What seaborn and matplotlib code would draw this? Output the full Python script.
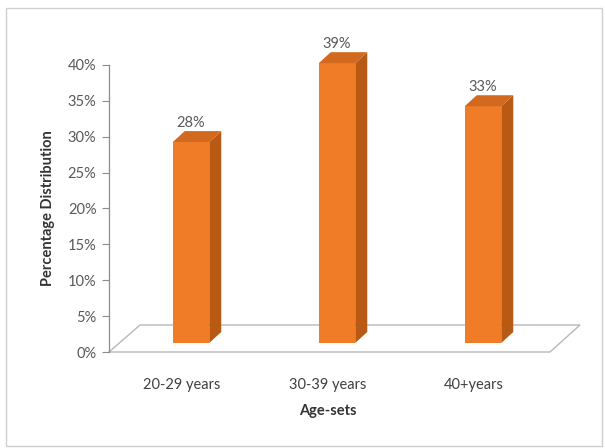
import matplotlib
matplotlib.use("Agg")
import matplotlib.pyplot as plt
import matplotlib.transforms as mtransforms
from matplotlib.patches import Polygon, Rectangle
from matplotlib.ticker import FuncFormatter
import pandas as pd
import seaborn as sns

# data
age_sets = ["20-29 years", "30-39 years", "40+years"]
share = [28, 39, 33]

df = pd.DataFrame({"age": age_sets, "share": share})

sns.set_style("white")
plt.rcParams["font.family"] = ["Lato", "DejaVu Sans"]

W, H = 605, 448
fig = plt.figure(figsize=(W / 100, H / 100), dpi=100)
ax = fig.add_axes([109 / W, 1 - 352 / H, 438 / W, 287 / H])
ax.patch.set_visible(False)

front = "#F07C28"
side_c = "#B85A14"
top_c = "#D2691E"

sns.barplot(data=df, x="age", y="share", color=front, width=0.25,
            saturation=1, linewidth=0, ax=ax, zorder=3)
bars = list(ax.patches)

ax.set_xlim(-0.5, 2.5)
ax.set_ylim(0, 40)
ax.set_yticks(range(0, 41, 5))
ax.yaxis.set_major_formatter(FuncFormatter(lambda v, p: f"{v:.0f}%"))

for s in ["top", "right", "bottom"]:
    ax.spines[s].set_visible(False)
ax.spines["left"].set_color("#8c8c8c")
ax.spines["left"].set_linewidth(0.9)
ax.tick_params(axis="y", direction="out", length=5, width=0.8, color="#8c8c8c",
               labelsize=10.5, labelcolor="#595959", pad=4, left=True)
ax.tick_params(axis="x", length=0, labelsize=10.5, labelcolor="#404040", pad=19)

ax.set_xlabel("Age-sets", fontsize=10.5, fontweight="bold", color="#333333", labelpad=8)
ax.set_ylabel("Percentage Distribution", fontsize=10.5, fontweight="bold",
              color="#333333", labelpad=9)

# pseudo 3D: push the bars into the floor, add side and top faces
shift = mtransforms.ScaledTranslation(0.09, 0.09, fig.dpi_scale_trans)
for p in bars:
    p.set_transform(ax.transData + shift)
    p.set_clip_on(False)

ident = mtransforms.IdentityTransform()
sx, sy = 9, 9
dx, dy = 12, 11
for p in bars:
    x0, w, h = p.get_x(), p.get_width(), p.get_height()
    xl, yb = ax.transData.transform((x0, 0)) + (sx, sy)
    xr, yt = ax.transData.transform((x0 + w, h)) + (sx, sy)
    side = [(xr, yb), (xr + dx, yb + dy), (xr + dx, yt + dy), (xr, yt)]
    top = [(xl, yt), (xr, yt), (xr + dx, yt + dy), (xl + dx, yt + dy)]
    fig.add_artist(Polygon(side, closed=True, facecolor=side_c, edgecolor="none",
                           transform=ident, zorder=2))
    fig.add_artist(Polygon(top, closed=True, facecolor=top_c, edgecolor="none",
                           transform=ident, zorder=2))

# floor
fl, fb = ax.transAxes.transform((0, 0))
fr, _ = ax.transAxes.transform((1, 0))
fr += 3
floor = [(fl, fb), (fr, fb), (fr + 30, fb + 27), (fl + 31, fb + 27)]
fig.add_artist(Polygon(floor, closed=True, facecolor="white", edgecolor="#b8b8b8",
                       linewidth=1.0, transform=ident, zorder=-1))

# value labels
lab_tr = ax.transData + mtransforms.ScaledTranslation(0.09, 0.24, fig.dpi_scale_trans)
for i, v in enumerate(share):
    ax.text(i, v, f"{v}%", transform=lab_tr, ha="center", va="baseline",
            fontsize=10.5, color="#595959", zorder=5, clip_on=False)

# outer chart border
fig.add_artist(Rectangle((6 / W, 2 / H), 596 / W, 438 / H, transform=fig.transFigure,
                         fill=False, edgecolor="#cfcfcf", linewidth=1.0, zorder=-2))

fig.savefig("out.png", dpi=100)
